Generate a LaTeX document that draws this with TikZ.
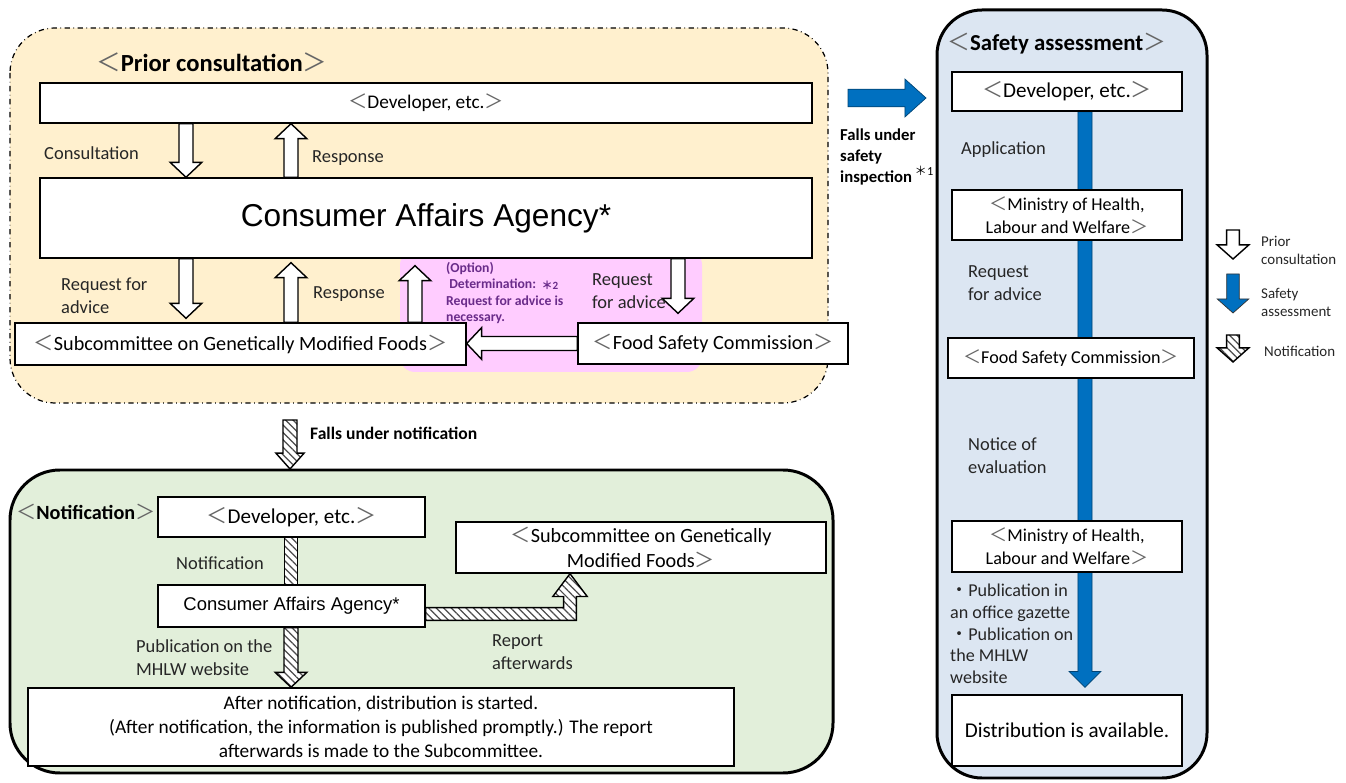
\documentclass[tikz,border=0pt]{standalone}
\usepackage{fontspec}
\setmainfont{Carlito}
\newfontfamily\arialfont{Liberation Sans}
\newfontfamily\cjk{Noto Sans CJK JP}
\usetikzlibrary{calc,backgrounds,patterns.meta}

\definecolor{priorfill}{HTML}{FFF0CE}
\definecolor{pinkfill}{HTML}{FFCCFF}
\definecolor{safetyfill}{HTML}{DCE6F2}
\definecolor{notiffill}{HTML}{E2EFDA}
\definecolor{assessblue}{HTML}{0070C0}
\definecolor{optionpurple}{HTML}{6A2C8A}

\newcommand{\ltag}{{\cjk\mdseries\color{black!60}＜}}
\newcommand{\rtag}{{\cjk\mdseries\color{black!60}＞}}
\newcommand{\fsz}[2]{\fontsize{#1}{#2}\selectfont}

% block arrows: shaft half width, head half width, head length
\def\sw{4pt}\def\hw{9pt}\def\hl{8.5pt}
\newcommand{\varrow}[3][]{%
  \draw[#1] let \p1=(#2), \p2=(#3), \n1={sign(\y2-\y1)} in
    (\x1-\sw,\y1) -- (\x1-\sw,{\y2-(\n1)*\hl}) -- (\x1-\hw,{\y2-(\n1)*\hl}) -- (\x1,\y2)
    -- (\x1+\hw,{\y2-(\n1)*\hl}) -- (\x1+\sw,{\y2-(\n1)*\hl}) -- (\x1+\sw,\y1) -- cycle;}
\newcommand{\harrow}[3][]{%
  \draw[#1] let \p1=(#2), \p2=(#3), \n1={sign(\x2-\x1)} in
    (\x1,\y1-\sw) -- ({\x2-(\n1)*\hl},\y1-\sw) -- ({\x2-(\n1)*\hl},\y1-\hw) -- (\x2,\y1)
    -- ({\x2-(\n1)*\hl},\y1+\hw) -- ({\x2-(\n1)*\hl},\y1+\sw) -- (\x1,\y1+\sw) -- cycle;}
% bar to the right, then up into a box
\newcommand{\larrow}[3][]{%
  \draw[#1] let \p1=(#2), \p2=(#3) in
    (\x1,\y1+\sw) -- (\x2-\sw,\y1+\sw) -- (\x2-\sw,\y2-\hl) -- (\x2-\hw,\y2-\hl) -- (\x2,\y2)
    -- (\x2+\hw,\y2-\hl) -- (\x2+\sw,\y2-\hl) -- (\x2+\sw,\y1-\sw) -- (\x1,\y1-\sw) -- cycle;}

\tikzset{
  box/.style={draw, fill=white, line width=0.8pt, align=center, inner sep=1pt, font=\fsz{11.5}{14}},
  lbl/.style={anchor=west, align=left, text=black!85, font=\fsz{10.5}{13}},
  headline/.style={anchor=west, font=\bfseries\fsz{14}{16}},
  hollow/.style={draw, fill=white, line width=0.8pt},
  blue arrow/.style={fill=assessblue, draw=assessblue!60!black, line width=0.4pt},
  hatch/.style={draw, line width=0.8pt, preaction={fill=white},
    pattern={Lines[angle=-45,distance=3pt,line width=0.7pt]}, pattern color=black!70},
}

\begin{document}
\begin{tikzpicture}[x=0.02cm, y=-0.02cm]
\useasboundingbox (0,0) rectangle (1346,783);

% Prior consultation
\node[headline] (ptitle) at (90,62) {\ltag Prior consultation\rtag};
\node[box, minimum width=15.44cm, minimum height=0.8cm, font=\fsz{11}{13}] (pdev) at (426,103) {\ltag Developer, etc.\rtag};
\node[box, minimum width=15.44cm, minimum height=1.6cm, font=\arialfont\fsz{18}{20}] (pcaa) at (426,218) {Consumer Affairs Agency*};
\node[box, minimum width=9.02cm, minimum height=0.84cm] (psub) at (240.5,344) {\ltag Subcommittee on Genetically Modified Foods\rtag};
\node[box, minimum width=5.4cm, minimum height=0.82cm] (pfsc) at (713,343.5) {\ltag Food Safety Commission\rtag};

\varrow[hollow]{186,0 |- pdev.south}{186,0 |- pcaa.north}
\varrow[hollow]{291,0 |- pcaa.north}{291,0 |- pdev.south}
\varrow[hollow]{186,0 |- pcaa.south}{$(186,0 |- psub.north)+(0,-4)$}
\varrow[hollow]{291,0 |- psub.north}{$(291,0 |- pcaa.south)+(0,4)$}
\varrow[hollow]{415,0 |- psub.north}{$(415,0 |- pcaa.south)+(0,7)$}
\varrow[hollow]{678,0 |- pcaa.south}{$(678,0 |- pfsc.north)+(0,-9)$}
\harrow[hollow]{pfsc.west}{psub.east}

\node[lbl] (lconsult) at (38,153) {Consultation};
\node[lbl] (lresp1) at (306,158) {Response};
\node[lbl] (lreq1) at (55,296) {Request for\\advice};
\node[lbl] (lresp2) at (307,294) {Response};
\node[lbl, font=\bfseries\fsz{7.8}{9.4}, text=optionpurple] (loption) at (440,293)
  {(Option)\\\ Determination:\\Request for advice is\\necessary.};
\node[font=\bfseries\fsz{6.3}{7}, text=optionpurple, inner sep=0pt] (lnote2) at (550,285) {{\cjk ＊}2};
\node[lbl] (lreq2) at (586,291) {Request\\for advice};

% to safety assessment
\coordinate (blueA) at (848,98);
\coordinate (blueB) at (926,98);
{\def\sw{5pt}\def\hw{10.8pt}\def\hl{12pt}\harrow[blue arrow]{blueA}{blueB}}
\node[lbl, font=\bfseries\fsz{9.5}{12}, text=black] (lfalls1) at (834,157) {Falls under\\safety\\inspection};
\node[font=\fsz{7}{8}] (lnote1) at (924,171) {{\cjk ＊}1};

% Safety assessment
\node[headline, font=\bfseries\fsz{13}{15}] (stitle) at (941,44) {\ltag Safety assessment\rtag};
\node[box, minimum width=4.6cm, minimum height=0.78cm, font=\fsz{12}{14}] (sdev) at (1067,91.5) {\ltag Developer, etc.\rtag};
\node[box, minimum width=4.6cm, minimum height=1.0cm, font=\fsz{10.3}{13}] (smhlw) at (1067,215) {\ltag Ministry of Health,\\Labour and Welfare\rtag};
\node[box, minimum width=4.92cm, minimum height=0.8cm, font=\fsz{10.3}{13}] (sfsc) at (1071,358) {\ltag Food Safety Commission\rtag};
\node[box, minimum width=4.6cm, minimum height=1.02cm, font=\fsz{10.3}{13}] (smhlwb) at (1067,546.5) {\ltag Ministry of Health,\\Labour and Welfare\rtag};
\node[box, minimum width=4.6cm, minimum height=1.42cm, font=\fsz{12}{14}] (sdist) at (1067,730.5) {Distribution is available.};

\node[lbl] (lappl) at (955,150) {Application};
\node[lbl] (lreq3) at (962,283) {Request\\for advice};
\node[lbl] (lnotice) at (962,456) {Notice of\\evaluation};
\node[lbl, font=\fsz{10.3}{12.3}] (lpubl) at (944,634)
  {{\cjk ・}Publication in\\an office gazette\\{\cjk ・}Publication on\\the MHLW\\website};

% Legend
\coordinate (legA1) at (1233,230); \coordinate (legA2) at (1233,259);
\coordinate (legB1) at (1233,274); \coordinate (legB2) at (1233,313);
\coordinate (legC1) at (1233,335); \coordinate (legC2) at (1233,362);
{\def\sw{3.6pt}\def\hw{9pt}\def\hl{8pt}
\varrow[hollow]{legA1}{legA2}
\varrow[blue arrow, draw=black!80]{legB1}{legB2}
\varrow[hatch]{legC1}{legC2}}
\node[lbl, font=\fsz{8.5}{10.2}] (lgprior) at (1255,250) {Prior\\consultation};
\node[lbl, font=\fsz{8.5}{10.2}] (lgsafety) at (1255,302) {Safety\\assessment};
\node[lbl, font=\fsz{8.5}{10.2}] (lgnotif) at (1258,351) {Notification};

% to notification
\coordinate (notifA) at (290,420);
\coordinate (notifB) at (290,469);
{\def\hw{8pt}\def\hl{9pt}\varrow[hatch]{notifA}{notifB}}
\node[lbl, font=\bfseries\fsz{10}{12}, text=black] (lfalls2) at (304,433) {Falls under notification};

% Notification
\node[headline, font=\bfseries\fsz{11.5}{14}] (ntitle) at (10,512) {\ltag Notification\rtag};
\node[box, minimum width=5.34cm, minimum height=0.8cm, font=\fsz{12}{14}] (ndev) at (291.5,517) {\ltag Developer, etc.\rtag};
\node[box, minimum width=5.34cm, minimum height=0.84cm, font=\arialfont\fsz{10.5}{12}] (ncaa) at (291.5,606) {Consumer Affairs Agency*};
\node[box, minimum width=7.4cm, minimum height=1.02cm] (nsub) at (641,547.5) {\ltag Subcommittee on Genetically\\Modified Foods\rtag};
\node[box, minimum width=14.12cm, minimum height=1.56cm, font=\fsz{11}{13.6}] (nafter) at (381,727)
  {After notification, distribution is started.\\(After notification, the information is published promptly.) The report\\afterwards is made to the Subcommittee.};

\draw[hatch] (284.5,0 |- ndev.south) rectangle (297.5,0 |- ncaa.north);
\varrow[hatch]{291,0 |- ncaa.south}{291,0 |- nafter.north}
{\def\sw{3.6pt}\def\hw{9.8pt}\def\hl{13pt}\larrow[hatch]{$(ncaa.east)+(0,8)$}{570,0 |- nsub.south}}

\node[lbl] (lnotif) at (170,563) {Notification};
\node[lbl] (lpubw) at (130,658) {Publication on the\\MHLW website};
\node[lbl] (lreport) at (486,652) {Report\\afterwards};

% Regions behind everything
\begin{scope}[on background layer]
  \draw[fill=priorfill, dash dot, line width=0.7pt, rounded corners=0.9cm] (10,28) rectangle (828,403);
  \fill[pinkfill, rounded corners=0.3cm] (400,250) rectangle (702,372);
  \draw[fill=safetyfill, line width=1.7pt, rounded corners=0.9cm] (937,10) rectangle (1207,778);
  \draw[fill=notiffill, line width=1.7pt, rounded corners=1cm] (10,470) rectangle (833,773);
  {\def\hw{9pt}\def\hl{9pt}\varrow[blue arrow]{1085,0 |- sdev.south}{$(1085,0 |- sdist.north)+(0,-7)$}}
\end{scope}
\end{tikzpicture}
\end{document}
